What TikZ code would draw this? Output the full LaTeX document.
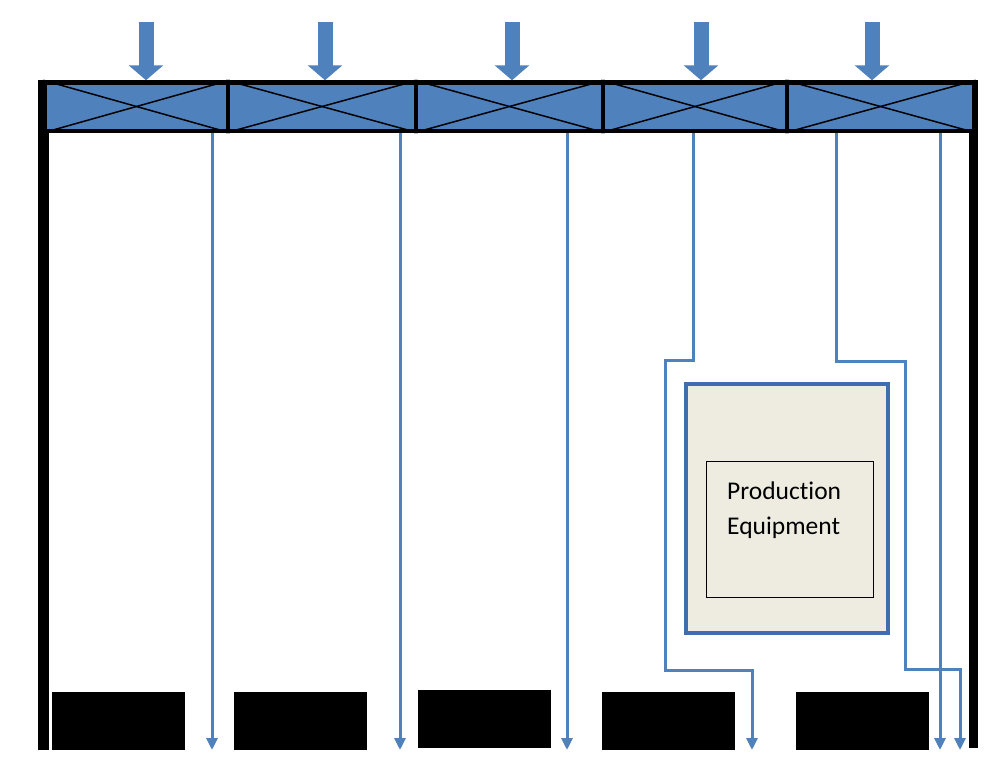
\documentclass[tikz,border=0pt]{standalone}
\usepackage{fontspec}
\setmainfont[Ligatures={NoCommon}]{Carlito}
\usetikzlibrary{arrows.meta}
\definecolor{flowblue}{HTML}{4F81BD}
\definecolor{edgeblue}{HTML}{3F6DAD}
\definecolor{tan}{HTML}{EEECE1}
\tikzset{
  cell/.style={draw=black, line width=3.5pt, fill=flowblue, minimum height=49pt, inner sep=0pt},
  cross/.style={draw=black, line width=1.5pt},
  feed/.style={draw=flowblue, line width=15pt, -{Triangle[width=34pt,length=15pt]}},
  flow/.style={draw=flowblue, line width=3pt, -{Triangle[width=11pt,length=12pt]}},
  pallet/.style={fill=black, minimum width=133pt, minimum height=58pt, inner sep=0pt},
  wall/.style={fill=black},
}
\begin{document}
\begin{tikzpicture}[x=1pt, y=-1pt]
\useasboundingbox (0,0) rectangle (989,769);
\fill[white] (0,0) rectangle (989,769);

% side walls
\fill[wall] (38,80) rectangle (49,750);
\fill[wall] (969,80) rectangle (978,748);

% ceiling supply cells
\node[cell, minimum width=183pt] (c1) at (136.5,106.5) {};
\node[cell, minimum width=188pt] (c2) at (322,106.5) {};
\node[cell, minimum width=187pt] (c3) at (509.5,106.5) {};
\node[cell, minimum width=184pt] (c4) at (695,106.5) {};
\node[cell, minimum width=187pt] (c5) at (880.5,106.5) {};
\foreach \c in {c1,c2,c3,c4,c5}{
  \draw[cross] (\c.north west) -- (\c.south east);
  \draw[cross] (\c.south west) -- (\c.north east);
}
\draw[line width=5pt] (38,82) -- (978,82);

% incoming air
\foreach \i/\x in {1/146, 2/325, 3/512, 4/701, 5/872}{
  \coordinate (in\i) at (\x,22);
  \draw[feed] (in\i) -- (in\i |- c\i.north);
}

% production equipment
\node[draw=edgeblue, line width=4pt, fill=tan, minimum width=202pt, minimum height=249pt] (eq) at (787,508.5) {};
\node[draw=black, line width=1pt, fill=tan, minimum width=167pt, minimum height=136pt] (eqin) at (789.5,529) {};
\node[anchor=west, align=left, font=\fontsize{25.5}{35}\selectfont, inner sep=0pt] (eqtxt) at (727,510) {Production\\Equipment};

% floor units
\node[pallet] (b1) at (118.5,721) {};
\node[pallet] (b2) at (300.5,721) {};
\node[pallet] (b3) at (484.5,719) {};
\node[pallet] (b4) at (668,721) {};
\node[pallet] (b5) at (862.5,720.5) {};

% air paths
\coordinate (s4) at (693,131);
\coordinate (s5) at (836,131);
\coordinate (o1) at (212,750);
\coordinate (o2) at (400,750);
\coordinate (o3) at (567,750);
\coordinate (o4) at (752,750);
\coordinate (o5) at (940,750);
\coordinate (o6) at (960,750);
\draw[flow] (c1.south -| o1) -- (o1);
\draw[flow] (c2.south -| o2) -- (o2);
\draw[flow] (c3.south -| o3) -- (o3);
\draw[flow] (c4.south -| s4) -- (693,360) -- (665,360) -- (665,670) -- (752,670) -- (o4);
\draw[flow] (c5.south -| o5) -- (o5);
\draw[flow] (c5.south -| s5) -- (836,361) -- (905,361) -- (905,669) -- (960,669) -- (o6);
\end{tikzpicture}
\end{document}
